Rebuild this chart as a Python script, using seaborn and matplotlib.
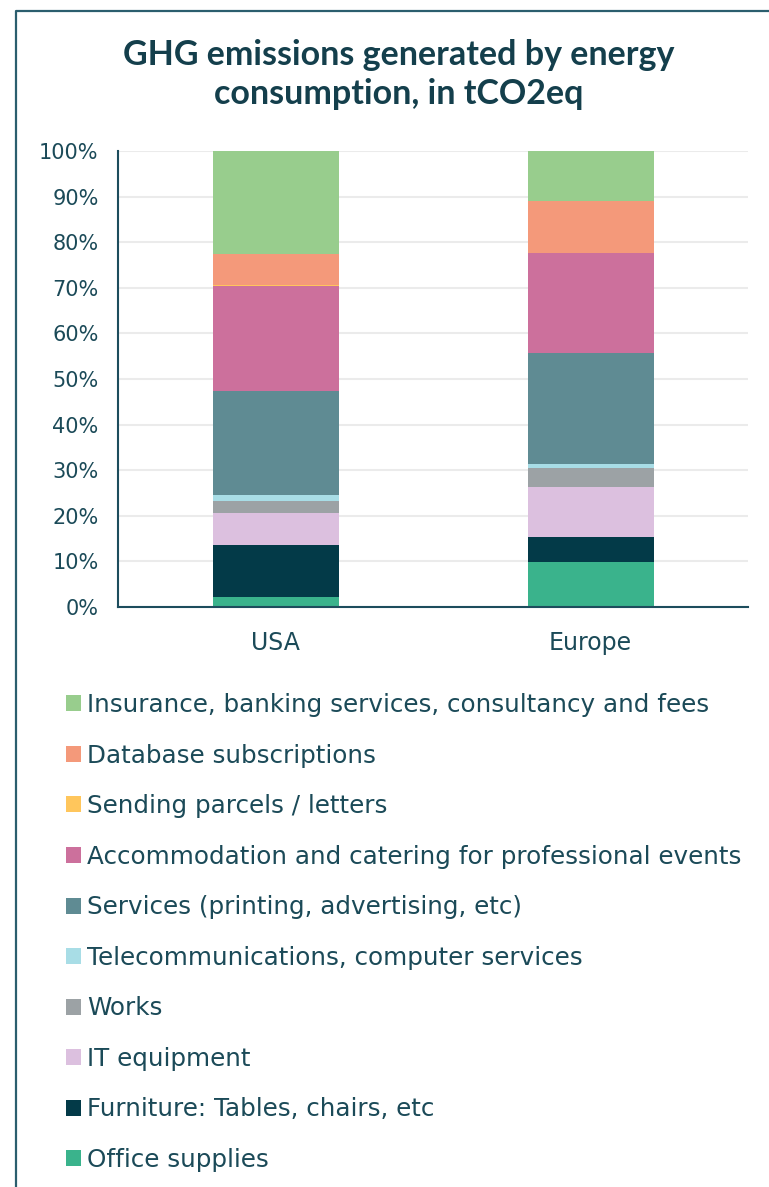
import pandas as pd
import seaborn as sns
import matplotlib.pyplot as plt
from matplotlib.patches import Patch
from matplotlib.lines import Line2D
from matplotlib.ticker import FuncFormatter

regions = ["USA", "Europe"]

# share of emissions in %, listed from the bottom of the stack upwards
office_supplies = [2.2, 9.9]
furniture = [11.3, 5.4]
it_equipment = [7.1, 11.1]
works = [2.6, 4.1]
telecom = [1.4, 0.9]
services = [22.7, 24.3]
accommodation = [23.0, 21.9]
parcels = [0.3, 0.0]
database = [6.8, 11.4]
insurance = [22.6, 11.0]

labels = [
    "Office supplies",
    "Furniture: Tables, chairs, etc",
    "IT equipment",
    "Works",
    "Telecommunications, computer services",
    "Services (printing, advertising, etc)",
    "Accommodation and catering for professional events",
    "Sending parcels / letters",
    "Database subscriptions",
    "Insurance, banking services, consultancy and fees",
]
series = [office_supplies, furniture, it_equipment, works, telecom,
          services, accommodation, parcels, database, insurance]
colors = ["#3AB38C", "#033A48", "#DCC0DF", "#9CA2A5", "#A8DDE6",
          "#5F8B93", "#CC709C", "#FFC65C", "#F4997A", "#98CD8D"]

yticks = list(range(0, 101, 10))

TEXT = "#1B4A58"
SPINE = "#1D4D5D"

sns.set_style("white")
plt.rcParams["font.family"] = ["DejaVu Sans"]

df = pd.DataFrame(dict(zip(labels, series)), index=regions)
cum = df.cumsum(axis=1)

fig = plt.figure(figsize=(7.69, 11.87), dpi=100)
ax = fig.add_axes([118 / 769, 1 - 607 / 1187, 630 / 769, 456 / 1187])

# stacked bars: draw cumulative totals from the top segment down
for lab, col in zip(reversed(labels), reversed(colors)):
    sns.barplot(x=regions, y=cum[lab].values, order=regions, color=col,
                saturation=1, width=0.4, linewidth=0, ax=ax)

ax.set_xlim(-0.5, 1.5)
ax.set_ylim(0, 100)
ax.set_axisbelow(True)
ax.set_yticks(yticks)
ax.yaxis.set_major_formatter(FuncFormatter(lambda v, p: f"{int(v)}%"))
ax.yaxis.grid(True, color="#EBEBEB", linewidth=1.5)
ax.set_xlabel("")
ax.set_ylabel("")

ax.set_xticks([-0.5, 0.5, 1.5])
ax.set_xticklabels([])
ax.set_xticks([0, 1], minor=True)
ax.set_xticklabels(regions, minor=True)
ax.tick_params(axis="x", which="major", direction="out", length=5, width=1.5, color=SPINE)
ax.tick_params(axis="x", which="minor", length=0, pad=17, labelsize=17, labelcolor=TEXT)
ax.tick_params(axis="y", direction="out", length=5, width=1.5, color=SPINE,
               pad=9, labelsize=15, labelcolor=TEXT)

for side in ["top", "right"]:
    ax.spines[side].set_visible(False)
for side in ["left", "bottom"]:
    ax.spines[side].set_color(SPINE)
    ax.spines[side].set_linewidth(1.5)

# title
fig.text(399 / 769, 1 - 55 / 1187, "GHG emissions generated by energy",
         ha="center", va="center", fontsize=24.5, fontweight="bold",
         family="Lato", color="#143F4C")
fig.text(399 / 769, 1 - 94 / 1187, "consumption, in tCO2eq",
         ha="center", va="center", fontsize=24.5, fontweight="bold",
         family="Lato", color="#143F4C")

# legend, top category first
handles = [Patch(facecolor=c, edgecolor="none") for c in reversed(colors)]
fig.legend(handles, list(reversed(labels)), loc="upper left",
           bbox_to_anchor=(66 / 769, 1 - 693 / 1187), frameon=False,
           fontsize=17.7, labelcolor=TEXT, handlelength=0.62, handleheight=0.62,
           handletextpad=0.25, labelspacing=1.08, borderpad=0, borderaxespad=0)

# outer frame (left and top edges)
fig.add_artist(Line2D([15.5 / 769, 15.5 / 769, 1], [0, 1 - 10.5 / 1187, 1 - 10.5 / 1187],
                      transform=fig.transFigure, color="#2B5E6E", linewidth=1.6))

fig.savefig("out.png", dpi=100)
